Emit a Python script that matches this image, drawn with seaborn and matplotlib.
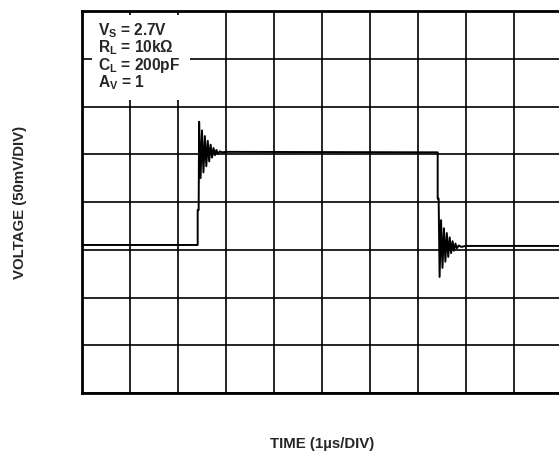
import matplotlib
matplotlib.use("Agg")
import matplotlib.pyplot as plt
import pandas as pd
import seaborn as sns
from matplotlib.patches import Rectangle

# Scope trace: time in divisions (1us/DIV), voltage in divisions (50mV/DIV)
time_div = [0.0, 2.41, 2.41, 2.43, 2.44, 2.47, 2.50, 2.53, 2.56, 2.59, 2.62, 2.65, 2.68,
            2.71, 2.74, 2.77, 2.80, 2.83, 2.87, 2.92, 3.00,
            7.41, 7.41, 7.43, 7.45, 7.48, 7.51, 7.54, 7.57, 7.60, 7.63, 7.66, 7.69,
            7.72, 7.75, 7.78, 7.81, 7.85, 7.90, 8.00, 10.0]
volt_div = [3.10, 3.10, 3.83, 3.83, 5.68, 4.50, 5.50, 4.62, 5.38, 4.75, 5.28, 4.85, 5.20,
            4.93, 5.13, 4.98, 5.09, 5.01, 5.06, 5.04, 5.05,
            5.04, 4.07, 4.07, 2.43, 3.62, 2.62, 3.45, 2.75, 3.35, 2.85, 3.26, 2.93,
            3.18, 2.98, 3.13, 3.03, 3.09, 3.06, 3.08, 3.08]

conditions = [r"V$_{S}$ = 2.7V", r"R$_{L}$ = 10kΩ", r"C$_{L}$ = 200pF", r"A$_{V}$ = 1"]

df = pd.DataFrame({"time": time_div, "volt": volt_div})

sns.set_style("white")
plt.rcParams["font.family"] = ["Liberation Sans", "DejaVu Sans"]
plt.rcParams["mathtext.fontset"] = "custom"
plt.rcParams["mathtext.rm"] = "Liberation Sans:bold"
plt.rcParams["mathtext.it"] = "Liberation Sans:bold"
plt.rcParams["mathtext.bf"] = "Liberation Sans:bold"

fig = plt.figure(figsize=(5.59, 4.54), dpi=100)
ax = fig.add_axes([82 / 559, 1 - 393 / 454, 480 / 559, 382 / 454])

sns.lineplot(data=df, x="time", y="volt", ax=ax, color="black", linewidth=1.4,
             estimator=None, sort=False, zorder=3)

ax.set_xlim(0, 10)
ax.set_ylim(0, 8)
ax.set_xticks(range(11))
ax.set_yticks(range(9))
ax.grid(True, color="black", linewidth=1.2)
ax.tick_params(length=0, labelbottom=False, labelleft=False)
ax.set_xlabel("")
ax.set_ylabel("")
for sp in ax.spines.values():
    sp.set_color("black")
    sp.set_linewidth(2)

# white box behind the test conditions
ax.add_patch(Rectangle((0.021, 0.767), 0.204, 0.223, transform=ax.transAxes,
                       facecolor="white", edgecolor="none", zorder=2.5))
ax.text(0.033, 0.972, "\n".join(conditions), transform=ax.transAxes, fontsize=11.2,
        fontweight="bold", va="top", ha="left", linespacing=0.88, zorder=4)

fig.text(322 / 559, 1 - 444 / 454, "TIME (1µs/DIV)", ha="center", va="center",
         fontsize=10.8, fontweight="bold")
fig.text(20 / 559, 1 - 202 / 454, "VOLTAGE (50mV/DIV)", ha="center", va="center",
         rotation=90, fontsize=10.8, fontweight="bold")

fig.savefig("out.png", dpi=100, facecolor="white")
